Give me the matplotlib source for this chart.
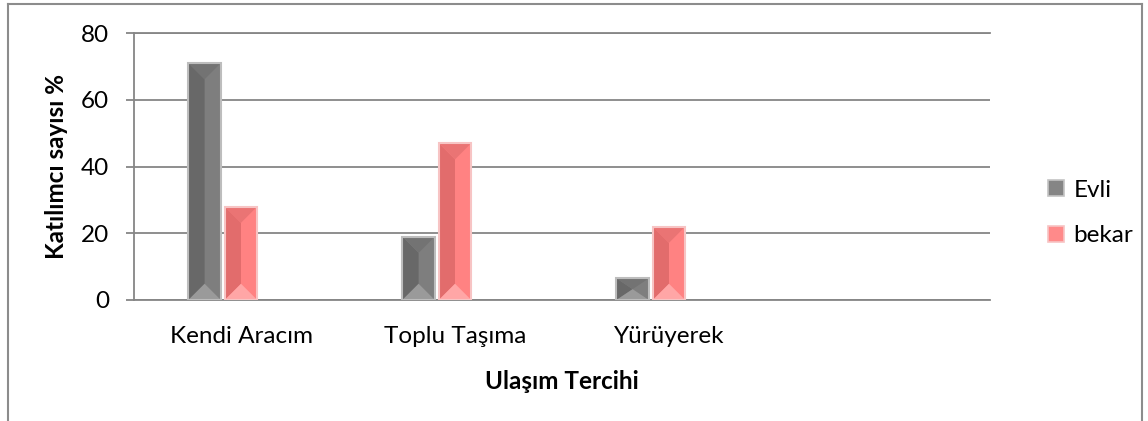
import numpy as np
import matplotlib.pyplot as plt
from matplotlib.patches import Polygon, Rectangle, Patch
from matplotlib.lines import Line2D

categories = ['Kendi Aracım', 'Toplu Taşıma', 'Yürüyerek', '']
series_names = ['Evli', 'bekar']
evli = [71, 19, 6.5]
bekar = [28, 47, 22]
yticks = [0, 20, 40, 60, 80]

plt.rcParams['font.family'] = ['Lato', 'DejaVu Sans']
FS = 17.5
GRID = '#868686'

fig = plt.figure(figsize=(11.48, 4.21), dpi=100)
ax = fig.add_axes([134 / 1148, 121 / 421, 856 / 1148, 267 / 421])

x = np.arange(len(evli))
w = 0.152
b1 = ax.bar(x - 0.17, evli, w, color='#7e7e7e', linewidth=0, zorder=3)
b2 = ax.bar(x, bekar, w, color='#ff8282', linewidth=0, zorder=3)

ax.set_xlim(-0.5, len(categories) - 0.5)
ax.set_ylim(0, 80)
ax.set_yticks(yticks)
ax.set_xticks(np.arange(len(categories)))
ax.set_xticklabels(categories)


def bevel(bars, dark, top_c, bot_c, edge):
    # fake the Excel "angle" bevel on each bar
    to_px = ax.transData
    for r in bars:
        x0, bw, h = r.get_x(), r.get_width(), r.get_height()
        (px0, py0), (px1, py1) = to_px.transform([(x0, 0), (x0 + bw, h)])
        d_px = min(px1 - px0, py1 - py0) / 2
        d = to_px.inverted().transform((px0, py0 + d_px))[1]
        cx = x0 + bw / 2
        ax.add_patch(Polygon([(x0, 0), (cx, d), (cx, h - d), (x0, h)],
                             color=dark, lw=0, zorder=3.1))
        ax.add_patch(Polygon([(x0, h), (x0 + bw, h), (cx, h - d)],
                             color=top_c, lw=0, zorder=3.2))
        ax.add_patch(Polygon([(x0, 0), (x0 + bw, 0), (cx, d)],
                             color=bot_c, lw=0, zorder=3.2))
        ax.add_patch(Rectangle((x0, 0), bw, h, fill=False, edgecolor=edge,
                               lw=1.5, zorder=3.3))


bevel(b1, '#686868', '#737373', '#9a9a9a', '#bdbdbd')
bevel(b2, '#e26c6c', '#ea7474', '#ffa6a6', '#f7c4c4')

ax.yaxis.grid(True, color=GRID, linewidth=1.3, zorder=0)
ax.set_axisbelow(True)
for s in ['left', 'bottom', 'top']:
    ax.spines[s].set_color(GRID)
    ax.spines[s].set_linewidth(1.3)
ax.spines['right'].set_visible(False)
ax.tick_params(axis='y', length=6, color=GRID, width=1.3, labelsize=FS, pad=12)
ax.tick_params(axis='x', length=0, labelsize=FS, pad=19)

ax.set_xlabel('Ulaşım Tercihi', fontsize=FS, fontweight='bold', va='center')
ax.xaxis.set_label_coords(0.5, -0.307)
ax.set_ylabel('Katılımcı sayısı %', fontsize=FS, fontweight='bold', va='center')
ax.yaxis.set_label_coords(-0.09, 0.5)

handles = [Patch(facecolor='#858585', edgecolor='#c4c4c4', lw=1.2),
           Patch(facecolor='#ff8a8a', edgecolor='#f7c4c4', lw=1.2)]
fig.legend(handles, series_names, loc='center left',
           bbox_to_anchor=(1026 / 1148, (421 - 213) / 421), frameon=False,
           fontsize=FS, handlelength=0.65, handleheight=0.65,
           handletextpad=0.4, labelspacing=1.0)

# outer chart frame (bottom edge is cut off in the source)
fc = '#8c8c8c'
fig.add_artist(Line2D([8 / 1148, 8 / 1148], [0, 417 / 421], transform=fig.transFigure, color=fc, lw=1.5))
fig.add_artist(Line2D([8 / 1148, 1142 / 1148], [417 / 421, 417 / 421], transform=fig.transFigure, color=fc, lw=1.5))
fig.add_artist(Line2D([1142 / 1148, 1142 / 1148], [0, 417 / 421], transform=fig.transFigure, color=fc, lw=1.5))

fig.savefig('out.png', dpi=100)
